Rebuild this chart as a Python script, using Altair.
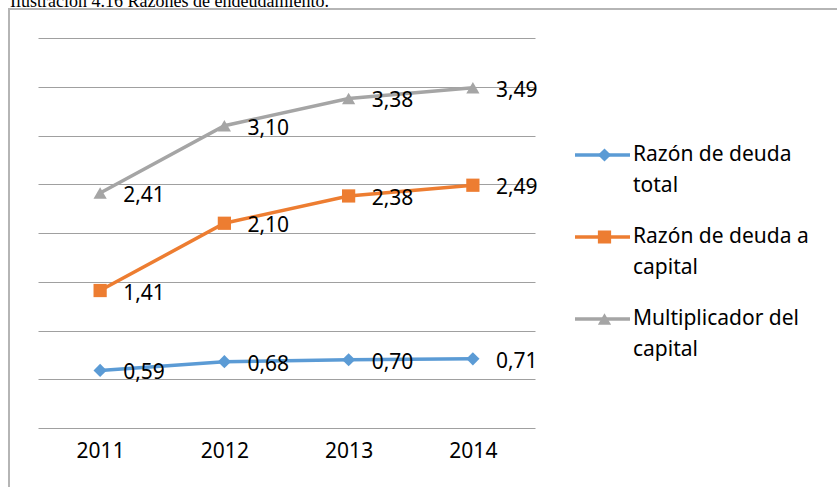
import altair as alt
import pandas as pd

years = ["2011", "2012", "2013", "2014"]
series = ["Razón de deuda total", "Razón de deuda a capital", "Multiplicador del capital"]
deuda_total = [0.59, 0.68, 0.70, 0.71]
deuda_capital = [1.41, 2.10, 2.38, 2.49]
multiplicador = [2.41, 3.10, 3.38, 3.49]
colors = ["#5B9BD5", "#ED7D31", "#A5A5A5"]
shapes = ["diamond", "square", "triangle-up"]
y_ticks = [0, 0.5, 1, 1.5, 2, 2.5, 3, 3.5, 4]
title_text = "Ilustración 4.16 Razones de endeudamiento."

rows = []
for s, vals in zip(series, [deuda_total, deuda_capital, multiplicador]):
    for yr, v in zip(years, vals):
        rows.append({"Año": yr, "Serie": s, "SerieL": s, "Valor": v})
df = pd.DataFrame(rows)

FONT = "Noto Sans"
label_expr = ("[slice(datum.label, 0, lastindexof(datum.label, ' ')), "
              "slice(datum.label, lastindexof(datum.label, ' ') + 1)]")

LX, LY = 535, 76
CLIP_H = 82

x_enc = alt.X("Año:O", sort=years,
              scale=alt.Scale(paddingInner=0, paddingOuter=0, domain=years),
              axis=alt.Axis(title=None, labelAngle=0, labelFont=FONT, labelFontSize=21,
                            labelColor="#000000", ticks=False, domain=False, labelPadding=12,
                            grid=False))
y_enc = alt.Y("Valor:Q", scale=alt.Scale(domain=[0, 4], nice=False),
              axis=alt.Axis(title=None, labels=False, ticks=False, domain=False,
                            values=y_ticks, grid=True, gridColor="#a0a0a0", gridWidth=1))

# Series order in the reference equals descending alphabetical order.
stroke_enc = alt.Stroke("SerieL:N", sort="descending", scale=alt.Scale(range=colors),
                        legend=alt.Legend(
                            title=None, orient="none", legendX=LX, legendY=LY,
                            labelFont=FONT, labelFontSize=21, labelColor="#000000",
                            labelOffset=1, symbolSize=3025, symbolStrokeWidth=3.5,
                            symbolType="stroke", rowPadding=0, padding=0,
                            clipHeight=CLIP_H, labelLimit=400, labelExpr=label_expr))
marker_legend = alt.Legend(
    title=None, orient="none", legendX=LX + 21, legendY=LY,
    labelFont=FONT, labelFontSize=21, labelColor="transparent",
    labelOffset=1, symbolSize=175, symbolStrokeWidth=0, symbolOpacity=1,
    rowPadding=0, padding=0, clipHeight=CLIP_H, labelLimit=400, labelExpr=label_expr)
color_enc = alt.Color("Serie:N", sort="descending", scale=alt.Scale(range=colors),
                      legend=marker_legend)
shape_enc = alt.Shape("Serie:N", sort="descending", scale=alt.Scale(range=shapes),
                      legend=marker_legend)

base = alt.Chart(df)

lines = base.mark_line(strokeWidth=3.5).encode(x=x_enc, y=y_enc, stroke=stroke_enc)
points = base.mark_point(filled=True, size=175, opacity=1, strokeWidth=0).encode(
    x=x_enc, y=y_enc, color=color_enc, shape=shape_enc)
labels = base.transform_calculate(
    lab="replace(format(datum.Valor, '.2f'), '.', ',')"
).mark_text(align="left", baseline="middle", dx=23, dy=3, font=FONT, fontSize=21,
            color="#000000").encode(x=x_enc, y=y_enc, text="lab:N")

frame = alt.Chart(pd.DataFrame({"k": [0]})).mark_rect(
    fill="transparent", stroke="#b5b5b5", strokeWidth=2).encode(
    x=alt.value(-29), x2=alt.value(900), y=alt.value(-29), y2=alt.value(600))

title = alt.Chart(pd.DataFrame({"t": [title_text]})).mark_text(
    align="left", baseline="alphabetic", font="Liberation Serif", fontSize=18,
    color="#000000").encode(x=alt.value(-28), y=alt.value(-31), text="t:N")

chart = alt.layer(frame, title, lines, points, labels).properties(
    width=497, height=390,
    autosize=alt.AutoSizeParams(type="none"),
    padding={"left": 38, "top": 38, "right": 302, "bottom": 59},
).configure(
    background="#ffffff",
    style={"guide-label": {"lineHeight": 31}},
).configure_view(strokeWidth=0)

chart.save("out.html", embed_options={"renderer": "svg", "actions": False})
